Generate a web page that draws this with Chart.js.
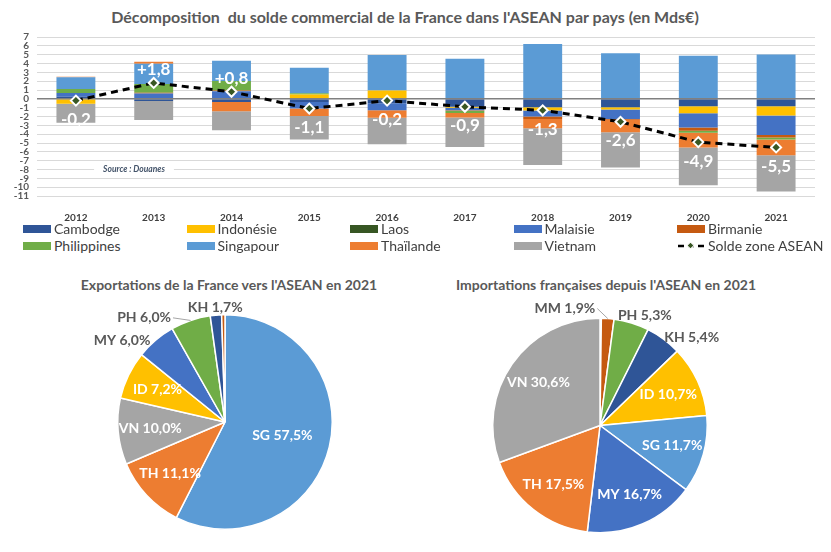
<!DOCTYPE html>
<html lang="fr">
<head>
    <meta charset="UTF-8">
    <title>Solde commercial de la France dans l'ASEAN</title>
    <script src="https://cdn.jsdelivr.net/npm/chart.js"></script>
    <style>
        body { margin: 0; background: #fff; font-family: Lato, "Open Sans", sans-serif; }
        #page { position: relative; width: 831px; height: 552px; overflow: hidden; }
        canvas { position: absolute; }
        .titre { position: absolute; font-weight: bold; color: #595959; white-space: nowrap; transform: translateX(-50%); }
        .item { position: absolute; display: flex; align-items: center; font-size: 14px; color: #404040; white-space: nowrap; }
        .boite { width: 28px; height: 8px; margin-right: 3px; }
    </style>
</head>
<body>
<div id="page">
    <div class="titre" style="left:405px; top:7px; font-size:16px;">Décomposition&nbsp; du solde commercial de la France dans l'ASEAN par pays (en Mds€)</div>
    <canvas id="graphSolde" width="831" height="222" style="left:0; top:0;"></canvas>
    <div id="legende"></div>
    <div class="titre" style="left:229px; top:276px; font-size:14px;">Exportations de la France vers l'ASEAN en 2021</div>
    <div class="titre" style="left:606px; top:276px; font-size:14px;">Importations françaises depuis l'ASEAN en 2021</div>
    <canvas id="graphExport" width="415" height="290" style="left:0; top:262px;"></canvas>
    <canvas id="graphImport" width="416" height="290" style="left:415px; top:262px;"></canvas>
</div>

<script>
// ---- données (Mds€) ----
const annees = ['2012', '2013', '2014', '2015', '2016', '2017', '2018', '2019', '2020', '2021'];
const pays = ['Cambodge', 'Indonésie', 'Laos', 'Malaisie', 'Birmanie', 'Philippines', 'Singapour', 'Thaïlande', 'Vietnam'];
const couleursPays = ['#2F5597', '#FFC000', '#375623', '#4472C4', '#C55A11', '#70AD47', '#5B9BD5', '#ED7D31', '#A5A5A5'];

const cambodge    = [0.25, -0.25, -0.35, -0.35, -0.5, -0.9, -0.95, -0.95, -0.84, -0.84];
const indonesie   = [-0.55, 0, 0, 0.5, 0.95, -0.1, -0.38, -0.27, -0.8, -1.06];
const laos        = [0, 0, 0, 0, 0, 0, 0, 0, 0, 0];
const malaisie    = [0.4, 0.6, 0.85, -0.75, -0.8, -0.3, -0.68, -1.06, -1.6, -2.2];
const birmanie    = [0, 0.08, 0.1, 0, 0, -0.05, -0.27, -0.1, -0.38, -0.27];
const philippines = [0.45, 1.0, 1.07, 0.12, 0, -0.25, 0, 0, -0.23, -0.23];
const singapour   = [1.35, 2.3, 2.3, 2.9, 4.0, 4.55, 6.2, 5.17, 4.87, 5.02];
const thailande   = [0.05, 0.22, -1.05, -0.85, -0.85, -0.5, -1.06, -1.4, -1.67, -1.79];
const vietnam     = [-2.15, -2.15, -2.15, -2.65, -3.0, -3.35, -4.15, -4.0, -4.25, -4.1];
const soldeAsean  = [-0.2, 1.8, 0.8, -1.1, -0.2, -0.9, -1.3, -2.6, -4.9, -5.5];

const valeursPays = [cambodge, indonesie, laos, malaisie, birmanie, philippines, singapour, thailande, vietnam];

// parts 2021 (%)
const codesExport = ['SG', 'TH', 'VN', 'ID', 'MY', 'PH', 'KH', 'MM'];
const partsExport = [57.5, 11.1, 10.0, 7.2, 6.0, 6.0, 1.7, 0.5];
const codesImport = ['LA', 'MM', 'PH', 'KH', 'ID', 'SG', 'MY', 'TH', 'VN'];
const partsImport = [0.2, 1.9, 5.3, 5.4, 10.7, 11.7, 16.7, 17.5, 30.6];

const couleurCode = {
    KH: '#2F5597', ID: '#FFC000', LA: '#375623', MY: '#4472C4', MM: '#C55A11',
    PH: '#70AD47', SG: '#5B9BD5', TH: '#ED7D31', VN: '#A5A5A5'
};

const police = 'Lato, "Open Sans", sans-serif';
const virgule = v => v.toFixed(1).replace('.', ',');

// ---- graphique du haut ----
const pluginSolde = {
    id: 'pluginSolde',
    beforeDatasetsDraw(chart) {
        // mention de source posée sur la grille
        const { ctx, chartArea, scales } = chart;
        const yy = scales.y.getPixelForValue(-8);
        const xx = chartArea.left + 97;
        ctx.save();
        ctx.font = 'italic bold 8.5px ' + police;
        const w = ctx.measureText('Source : Douanes').width;
        ctx.fillStyle = '#fff';
        ctx.fillRect(xx - w / 2 - 9, yy - 3, w + 18, 6);
        ctx.fillStyle = '#44546A';
        ctx.textAlign = 'center';
        ctx.textBaseline = 'middle';
        ctx.fillText('Source : Douanes', xx, yy);
        ctx.restore();
    },
    beforeDatasetDraw(chart, args) {
        // axe du zéro par-dessus les barres, sous la courbe
        if (args.meta.type !== 'line') return;
        const { ctx, chartArea, scales } = chart;
        const y0 = scales.y.getPixelForValue(0);
        ctx.save();
        ctx.strokeStyle = '#808080';
        ctx.lineWidth = 1.5;
        ctx.beginPath();
        ctx.moveTo(chartArea.left, y0);
        ctx.lineTo(chartArea.right, y0);
        ctx.stroke();
        ctx.restore();
    },
    afterDatasetsDraw(chart) {
        const ctx = chart.ctx;
        const idx = chart.data.datasets.length - 1;
        const meta = chart.getDatasetMeta(idx);
        const data = chart.data.datasets[idx].data;
        ctx.save();
        ctx.font = 'bold 17px ' + police;
        ctx.fillStyle = '#fff';
        ctx.textAlign = 'center';
        ctx.textBaseline = 'middle';
        meta.data.forEach((pt, i) => {
            const v = data[i];
            const txt = (v > 0 ? '+' : '') + virgule(v);
            ctx.fillText(txt, pt.x, pt.y + (v >= 0 ? -13 : 19));
        });
        ctx.restore();
    }
};

const jeux = pays.map((nom, i) => ({
    type: 'bar',
    label: nom,
    data: valeursPays[i],
    backgroundColor: couleursPays[i],
    borderWidth: 0,
    stack: 'pays',
    barPercentage: 0.5,
    categoryPercentage: 1
}));
jeux.push({
    type: 'line',
    label: 'Solde zone ASEAN',
    data: soldeAsean,
    stack: 'solde',
    order: -1,
    borderColor: '#000',
    borderWidth: 3,
    borderDash: [7, 5],
    fill: false,
    tension: 0,
    pointStyle: 'rectRot',
    pointRadius: 5,
    pointBackgroundColor: '#385723',
    pointBorderColor: '#fff',
    pointBorderWidth: 2
});

const graphSolde = new Chart(document.getElementById('graphSolde'), {
    type: 'bar',
    data: { labels: annees, datasets: jeux },
    options: {
        responsive: false,
        animation: false,
        layout: { padding: { top: 37, right: 16, left: 0, bottom: 0 } },
        plugins: { legend: { display: false }, tooltip: { enabled: false } },
        scales: {
            x: {
                stacked: true,
                grid: { display: false },
                border: { display: false },
                ticks: { color: '#404040', font: { family: police, size: 10, weight: 'bold' }, padding: 8 },
                afterFit: s => { s.height = 26; }
            },
            y: {
                stacked: true,
                min: -11,
                max: 7,
                ticks: { stepSize: 1, autoSkip: false, color: '#595959', font: { family: police, size: 10, weight: 'bold' }, padding: 8 },
                grid: { color: c => c.tick.value === 0 ? 'rgba(0,0,0,0)' : '#d9d9d9', drawTicks: false },
                border: { display: false },
                afterFit: s => { s.width = 37; }
            }
        }
    },
    plugins: [pluginSolde]
});

// légende HTML en grille 5 colonnes
const legende = document.getElementById('legende');
graphSolde.data.datasets.forEach((ds, i) => {
    const item = document.createElement('div');
    item.className = 'item';
    item.style.left = (23 + (i % 5) * 163.5) + 'px';
    item.style.top = (i < 5 ? 220 : 237) + 'px';
    if (ds.type === 'line') {
        item.innerHTML = '<svg width="28" height="10" style="margin-right:3px"><line x1="1" y1="5" x2="27" y2="5" stroke="#000" stroke-width="2.5" stroke-dasharray="6,4"/><rect x="11" y="2" width="5" height="5" fill="#385723" stroke="#fff" transform="rotate(45 13.5 4.5)"/></svg>';
    } else {
        item.innerHTML = '<div class="boite" style="background:' + ds.backgroundColor + '"></div>';
    }
    item.appendChild(document.createTextNode(ds.label));
    legende.appendChild(item);
});

// ---- camemberts ----
const pluginEtiquettes = {
    id: 'etiquettes',
    afterDatasetsDraw(chart, args, opts) {
        const ctx = chart.ctx;
        const meta = chart.getDatasetMeta(0);
        const data = chart.data.datasets[0].data;
        ctx.save();
        ctx.font = 'bold 14px ' + police;
        ctx.textBaseline = 'middle';
        meta.data.forEach((arc, i) => {
            const v = data[i];
            if (v < 1) return;
            const code = chart.data.labels[i];
            const txt = code + ' ' + virgule(v) + '%';
            const p = arc.getProps(['x', 'y', 'startAngle', 'endAngle', 'outerRadius'], true);
            const mid = (p.startAngle + p.endAngle) / 2;
            const cx = Math.cos(mid), cy = Math.sin(mid);
            if (v >= opts.seuil) {
                const rr = p.outerRadius * (v > 40 ? 0.55 : 0.7);
                ctx.fillStyle = '#fff';
                ctx.textAlign = 'center';
                ctx.fillText(txt, p.x + cx * rr, p.y + cy * rr);
            } else {
                const R = p.outerRadius + 8;
                let px = p.x + cx * R, py = p.y + cy * R;
                let align = cx > 0.2 ? 'left' : (cx < -0.2 ? 'right' : 'center');
                const d = (opts.decalages || {})[code];
                if (d) {
                    px += d.dx || 0;
                    py += d.dy || 0;
                    if (d.align) align = d.align;
                    if (d.trait) {
                        ctx.strokeStyle = '#a6a6a6';
                        ctx.lineWidth = 1;
                        ctx.beginPath();
                        ctx.moveTo(px + (align === 'right' ? 2 : -2), py);
                        ctx.lineTo(p.x + cx * p.outerRadius, p.y + cy * p.outerRadius);
                        ctx.stroke();
                    }
                }
                ctx.fillStyle = '#595959';
                ctx.textAlign = align;
                ctx.fillText(txt, px, py);
            }
        });
        ctx.restore();
    }
};

function camembert(id, codes, parts, padding, decalages) {
    return new Chart(document.getElementById(id), {
        type: 'pie',
        data: {
            labels: codes,
            datasets: [{
                data: parts,
                backgroundColor: codes.map(c => couleurCode[c]),
                borderColor: '#fff',
                borderWidth: 1.5
            }]
        },
        options: {
            responsive: false,
            animation: false,
            layout: { padding: padding },
            plugins: {
                legend: { display: false },
                tooltip: { enabled: false },
                etiquettes: { seuil: 7, decalages: decalages }
            }
        },
        plugins: [pluginEtiquettes]
    });
}

camembert('graphExport', codesExport, partsExport,
    { left: 117, right: 82, top: 52, bottom: 22 },
    { PH: { dx: -17, dy: 5, trait: true }, MY: { dy: 6 } });

camembert('graphImport', codesImport, partsImport,
    { left: 77, right: 123, top: 55, bottom: 18 },
    { MM: { dx: -13, dy: -2, align: 'right', trait: true }, PH: { dx: -16 }, KH: { dx: -4, dy: 5 } });
</script>
</body>
</html>
